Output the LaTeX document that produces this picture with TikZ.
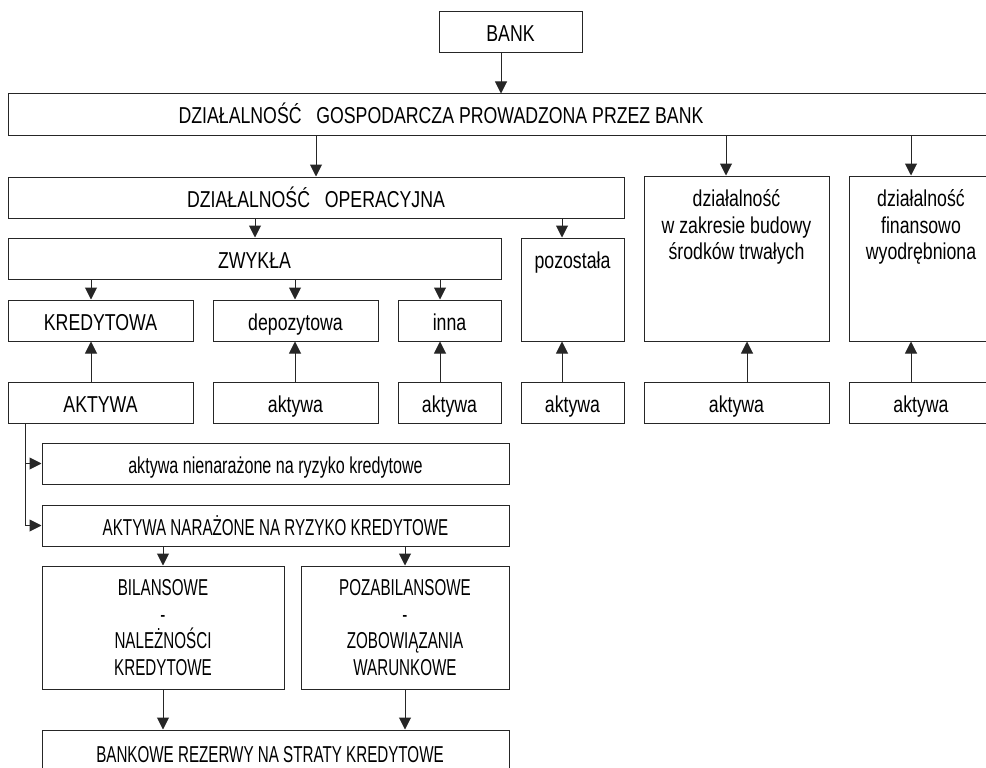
\documentclass[tikz,border=0pt]{standalone}
\usepackage{fontspec}
\setmainfont[FakeStretch=0.77]{Liberation Sans}
\newfontfamily\narrowfont[FakeStretch=0.66]{Liberation Sans}
\newfontfamily\midfont[FakeStretch=0.7]{Liberation Sans}
\usetikzlibrary{arrows.meta}
\begin{document}
\begin{tikzpicture}[x=1pt,y=-1pt,
  box/.style={draw=black!85, line width=1pt, inner sep=0pt, minimum height=41, font=\fontsize{23}{26.5}\selectfont, align=center},
  one/.style={text height=20pt, text depth=1pt},
  low/.style={font=\fontsize{23}{26.5}\narrowfont},
  txt/.style={inner sep=0pt, font=\fontsize{23}{26.5}\selectfont, align=center},
  arr/.style={draw=black!85, line width=1pt, -{Triangle[width=12pt,length=12pt]}},
  ln/.style={draw=black!85, line width=1pt}]
\useasboundingbox (0,0) rectangle (986,768);
\clip (0,0) rectangle (986,768);
% row 1
\node[box, one, minimum width=143] (bank) at (510.5,32.5) {BANK};
\node[box, minimum width=1092] (gosp) at (554,114.5) {};
\node[txt, one] (gospt) at (441,114.5) {DZIAŁALNOŚĆ\ \ \ GOSPODARCZA PROWADZONA PRZEZ BANK};
% row 2
\node[box, one, minimum width=616] (oper) at (316,197.5) {DZIAŁALNOŚĆ\ \ \ OPERACYJNA};
\node[box, minimum width=185, minimum height=165] (budowy) at (736.5,258.5) {};
\node[txt, anchor=north] (budowyt) at ([yshift=-14pt]budowy.north) {działalność\\w zakresie budowy\\środków trwałych};
\node[box, minimum width=144, minimum height=165] (finans) at (921,258.5) {};
\node[txt, anchor=north] (finanst) at ([yshift=-14pt]finans.north) {działalność\\finansowo\\wyodrębniona};
% row 3
\node[box, one, minimum width=493] (zwykla) at (254.5,258.5) {ZWYKŁA};
\node[box, minimum width=103, minimum height=103] (pozost) at (572.5,289.5) {};
\node[txt, anchor=north] (pozostt) at ([yshift=-14pt]pozost.north) {pozostała};
% row 4
\node[box, one, minimum width=185] (kred) at (100.5,320.5) {KREDYTOWA};
\node[box, one, minimum width=165] (depo) at (295.5,320.5) {depozytowa};
\node[box, one, minimum width=103] (inna) at (449.5,320.5) {inna};
% row 5
\node[box, one, minimum width=185] (akt1) at (100.5,402.5) {AKTYWA};
\node[box, one, minimum width=165] (akt2) at (295.5,402.5) {aktywa};
\node[box, one, minimum width=103] (akt3) at (449.5,402.5) {aktywa};
\node[box, one, minimum width=103] (akt4) at (572.5,402.5) {aktywa};
\node[box, one, minimum width=185] (akt5) at (736.5,402.5) {aktywa};
\node[box, one, minimum width=144] (akt6) at (921,402.5) {aktywa};
% lower part
\node[box, one, minimum width=467, font=\fontsize{23}{26.5}\midfont] (nienar) at (275.5,463.5) {aktywa nienarażone na ryzyko kredytowe};
\node[box, one, low, minimum width=467] (naraz) at (275.5,525.5) {AKTYWA NARAŻONE NA RYZYKO KREDYTOWE};
\node[box, low, minimum width=242, minimum height=123] (bil) at (163,627.5) {BILANSOWE\\-\\NALEŻNOŚCI\\KREDYTOWE};
\node[box, low, minimum width=208, minimum height=123] (pozabil) at (405,627.5) {POZABILANSOWE\\-\\ZOBOWIĄZANIA\\WARUNKOWE};
\node[box, minimum width=467, minimum height=46] (rez) at (275.5,753) {};
\node[txt, one, low] (rezt) at (270,752.5) {BANKOWE REZERWY NA STRATY KREDYTOWE};
% connector x positions
\coordinate (c1) at (501,0);
\coordinate (c2) at (316,0);
\coordinate (c3) at (726,0);
\coordinate (c4) at (911,0);
\coordinate (c5) at (255,0);
\coordinate (c6) at (562,0);
\coordinate (c7) at (91,0);
\coordinate (c8) at (295,0);
\coordinate (c9) at (440,0);
\coordinate (c10) at (747,0);
\coordinate (c11) at (163,0);
\coordinate (c12) at (405,0);
\coordinate (c13) at (25,0);
\draw[arr] (bank.south -| c1) -- (gosp.north -| c1);
\draw[arr] (gosp.south -| c2) -- (oper.north -| c2);
\draw[arr] (gosp.south -| c3) -- (budowy.north -| c3);
\draw[arr] (gosp.south -| c4) -- (finans.north -| c4);
\draw[arr] (oper.south -| c5) -- (zwykla.north -| c5);
\draw[arr] (oper.south -| c6) -- (pozost.north -| c6);
\draw[arr] (zwykla.south -| c7) -- (kred.north -| c7);
\draw[arr] (zwykla.south -| c8) -- (depo.north -| c8);
\draw[arr] (zwykla.south -| c9) -- (inna.north -| c9);
\draw[arr] (akt1.north -| c7) -- (kred.south -| c7);
\draw[arr] (akt2.north -| c8) -- (depo.south -| c8);
\draw[arr] (akt3.north -| c9) -- (inna.south -| c9);
\draw[arr] (akt4.north -| c6) -- (pozost.south -| c6);
\draw[arr] (akt5.north -| c10) -- (budowy.south -| c10);
\draw[arr] (akt6.north -| c4) -- (finans.south -| c4);
\draw[ln] (akt1.south -| c13) -- (naraz.west -| c13);
\draw[arr] (nienar.west -| c13) -- (nienar.west);
\draw[arr] (naraz.west -| c13) -- (naraz.west);
\draw[arr] (naraz.south -| c11) -- (bil.north -| c11);
\draw[arr] (naraz.south -| c12) -- (pozabil.north -| c12);
\draw[arr] (bil.south -| c11) -- (rez.north -| c11);
\draw[arr] (pozabil.south -| c12) -- (rez.north -| c12);
\end{tikzpicture}
\end{document}
